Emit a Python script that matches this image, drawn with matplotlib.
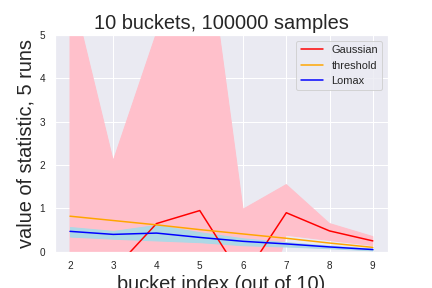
import matplotlib
matplotlib.use("Agg")
import matplotlib.pyplot as plt
import numpy as np
import seaborn as sns

buckets = [2, 3, 4, 5, 6, 7, 8, 9]

gaussian = [-1.0, -0.43, 0.65, 0.95, -0.62, 0.90, 0.48, 0.25]
gaussian_low = [-1.5, -1.2, -0.8, -0.9, -3.0, 0.38, 0.26, 0.14]
gaussian_high = [6.2, 2.1, 5.05, 8.4, 0.98, 1.55, 0.65, 0.35]

threshold = [0.82, 0.72, 0.62, 0.51, 0.41, 0.31, 0.20, 0.10]

lomax = [0.47, 0.40, 0.43, 0.33, 0.24, 0.18, 0.11, 0.05]
lomax_low = [0.35, 0.30, 0.26, 0.22, 0.15, 0.12, 0.08, 0.03]
lomax_high = [0.57, 0.48, 0.62, 0.45, 0.31, 0.22, 0.14, 0.07]

sns.set_theme(style="darkgrid")
plt.rcParams["font.family"] = ["Liberation Sans", "DejaVu Sans"]

fig, ax = plt.subplots(figsize=(6, 4), dpi=72)
fig.subplots_adjust(left=0.127, right=0.898, bottom=0.126, top=0.878)

ax.fill_between(buckets, gaussian_low, gaussian_high, color="pink")
ax.fill_between(buckets, lomax_low, lomax_high, color="lightblue")
ax.plot(buckets, gaussian, color="red", label="Gaussian")
ax.plot(buckets, threshold, color="orange", label="threshold")
ax.plot(buckets, lomax, color="blue", label="Lomax")

ax.set_ylim(0, 5)
ax.tick_params(labelsize=10)
ax.set_title("10 buckets, 100000 samples", fontsize=20)
ax.set_xlabel("bucket index (out of 10)", fontsize=20)
ax.set_ylabel("value of statistic, 5 runs", fontsize=20)
ax.legend(loc="upper right", fontsize=11)

fig.savefig("out.png", dpi=72)
